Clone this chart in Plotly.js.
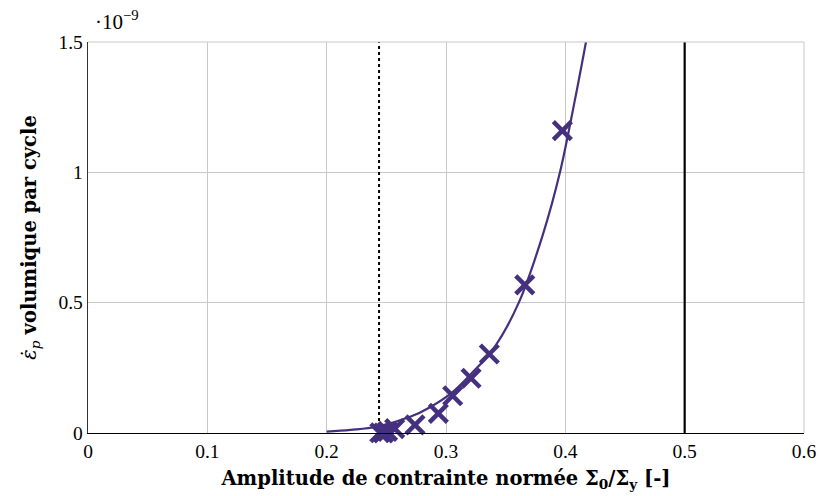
<!DOCTYPE html>
<html><head><meta charset="utf-8">
<script src="https://cdn.plot.ly/plotly-3.0.1.min.js"></script>
<style>body{margin:0;background:#fff}#chart{width:820px;height:496px}</style>
</head><body><div id="chart"></div>
<script>
// measured points (y in units of 1e-9)
const markerX = [0.2445, 0.2475, 0.251, 0.257, 0.274, 0.2936, 0.3056, 0.321, 0.3363, 0.366, 0.3975];
const markerY = [0.001, 0.0, 0.006, 0.017, 0.031, 0.075, 0.143, 0.21, 0.303, 0.568, 1.16];
// fitted curve
const curveX = [0.2, 0.22, 0.242, 0.27, 0.287, 0.305, 0.3215, 0.34, 0.361, 0.3815, 0.3955, 0.408, 0.4173];
const curveY = [0.005, 0.012, 0.024, 0.062, 0.10, 0.155, 0.229, 0.325, 0.50, 0.766, 1.0, 1.277, 1.5];
// vertical reference lines
const dottedX = 0.2439;
const solidX = 0.5;
const yRange = [0, 1.5];
const xTicks = [0, 0.1, 0.2, 0.3, 0.4, 0.5, 0.6];
const yTicks = [0, 0.5, 1, 1.5];

const purple = '#45307f';
const font = 'Liberation Serif, DejaVu Serif, serif';
const tfont = 'DejaVu Serif, serif';

const traces = [
  {x: [dottedX, dottedX], y: yRange, mode: 'lines', line: {color: '#000', width: 2, dash: 'dot'}, hoverinfo: 'skip', showlegend: false},
  {x: [solidX, solidX], y: yRange, mode: 'lines', line: {color: '#000', width: 2.2}, hoverinfo: 'skip', showlegend: false},
  {x: curveX, y: curveY, mode: 'lines', line: {color: purple, width: 2.2, shape: 'spline', smoothing: 1}, showlegend: false},
  {x: markerX, y: markerY, mode: 'markers', marker: {symbol: 'x-thin-open', size: 18, color: purple, line: {color: purple, width: 4.5}}, cliponaxis: false, showlegend: false}
];

const layout = {
  width: 820, height: 496,
  margin: {l: 88, r: 16, t: 42, b: 63},
  paper_bgcolor: '#fff', plot_bgcolor: '#fff',
  font: {family: font, size: 19, color: '#000'},
  xaxis: {
    range: [0, 0.6], tickvals: xTicks, ticktext: xTicks.map(String),
    showgrid: true, gridcolor: '#c8c8c8', gridwidth: 1,
    zeroline: false, showline: true, linecolor: '#000', linewidth: 1.3,
    ticks: '', tickfont: {size: 19.5, family: font},
    title: {text: '<b>Amplitude de contrainte normée Σ<sub>0</sub>/Σ<sub>y</sub> [-]</b>', font: {size: 19.5, family: tfont}, standoff: 10}
  },
  yaxis: {
    range: yRange, tickvals: yTicks, ticktext: yTicks.map(String),
    showgrid: true, gridcolor: '#c8c8c8', gridwidth: 1,
    zeroline: false, showline: true, linecolor: '#333', linewidth: 1.3,
    ticks: '', tickfont: {size: 19.5, family: font},
    title: {text: '<i>ε̇</i><sub><i>p</i></sub> <b>volumique par cycle</b>', font: {size: 19.5, family: tfont}, standoff: 16}
  },
  shapes: [
    {type: 'line', xref: 'paper', yref: 'paper', x0: 0, x1: 1, y0: 1, y1: 1, line: {color: '#c8c8c8', width: 1}},
    {type: 'line', xref: 'paper', yref: 'paper', x0: 1, x1: 1, y0: 0, y1: 1, line: {color: '#c8c8c8', width: 1}}
  ],
  annotations: [
    {xref: 'paper', yref: 'paper', x: 0, y: 1, xanchor: 'left', yanchor: 'bottom', xshift: 5, yshift: 6,
     text: '·10<sup>−9</sup>', showarrow: false, font: {size: 21, family: font}}
  ]
};
Plotly.newPlot('chart', traces, layout, {displayModeBar: false, staticPlot: true});
</script></body></html>
